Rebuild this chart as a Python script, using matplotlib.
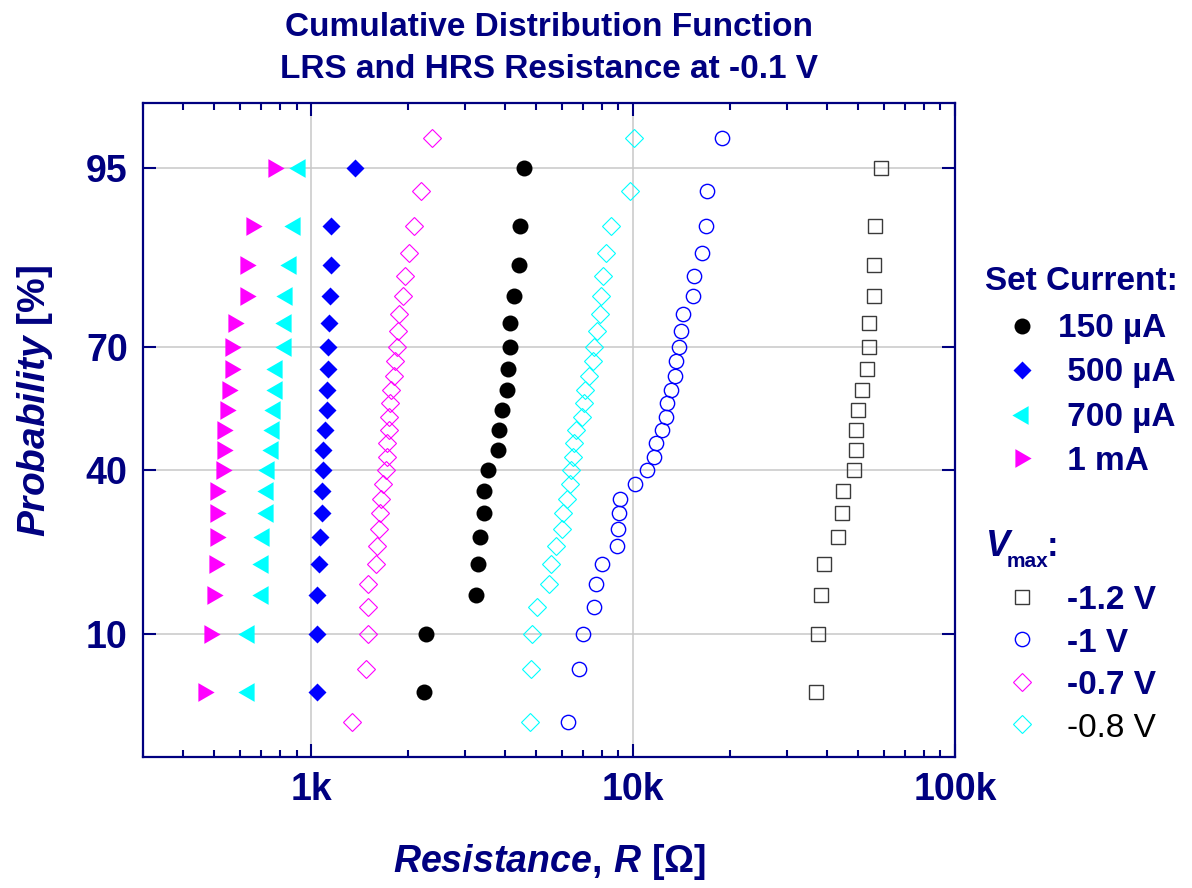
import math
import numpy as np
import matplotlib
matplotlib.use('Agg')
import matplotlib.pyplot as plt
from matplotlib.lines import Line2D
from matplotlib.path import Path
from matplotlib.ticker import LogLocator, NullFormatter

plt.rcParams['font.family'] = ['Liberation Sans', 'DejaVu Sans']
plt.rcParams['mathtext.fontset'] = 'custom'
plt.rcParams['mathtext.it'] = 'Liberation Sans:italic:bold'
plt.rcParams['mathtext.rm'] = 'Liberation Sans:bold'
plt.rcParams['mathtext.bf'] = 'Liberation Sans:bold'

NAVY = '#000080'

# ---------------- data ----------------
prob_19 = [5, 10, 15, 20, 25, 30, 35, 40, 45, 50, 55, 60, 65, 70, 75, 80, 85, 90, 95]
prob_29 = [3.33, 6.67, 10.0, 13.33, 16.67, 20.0, 23.33, 26.67, 30.0, 33.33,
           36.67, 40.0, 43.33, 46.67, 50.0, 53.33, 56.67, 60.0, 63.33, 66.67,
           70.0, 73.33, 76.67, 80.0, 83.33, 86.67, 90.0, 93.33, 96.67]

r_150uA = [2239, 2276, 3249, 3288, 3336, 3430, 3440, 3548, 3803, 3830,
           3923, 4056, 4075, 4135, 4154, 4275, 4431, 4452, 4571]
r_500uA = [1040, 1041, 1045, 1053, 1063, 1078, 1082, 1086, 1090, 1104,
           1116, 1119, 1124, 1127, 1136, 1143, 1148, 1150, 1366]
r_700uA = [626, 627, 693, 693, 698, 718, 720, 723, 745, 752,
           755, 765, 765, 817, 819, 822, 844, 869, 900]
r_1mA = [470, 490, 502, 511, 513, 513, 513, 536, 538, 539,
         551, 559, 570, 571, 584, 636, 636, 663, 777]

r_m12V = [36890, 37590, 38280, 39070, 43440, 44680, 44800, 48510, 49120, 49380,
          50020, 51560, 53320, 53860, 53860, 55970, 56100, 56380, 59070]
r_m1V = [6278, 6775, 6990, 7562, 7653, 8028, 8917, 9003, 9025, 9133,
         10120, 11055, 11595, 11790, 12250, 12665, 12727, 13095, 13478, 13606,
         13903, 14103, 14273, 15370, 15445, 16354, 16786, 16952, 18880]
r_m07V = [1335, 1476, 1501, 1501, 1504, 1591, 1604, 1624, 1635, 1651,
          1671, 1707, 1715, 1723, 1738, 1740, 1752, 1769, 1803, 1816,
          1851, 1865, 1878, 1921, 1958, 2013, 2086, 2188, 2364]
r_m08V = [4787, 4810, 4857, 5021, 5472, 5538, 5741, 6000, 6050, 6226,
          6361, 6422, 6500, 6539, 6633, 6933, 7033, 7083, 7290, 7483,
          7537, 7700, 7886, 7943, 8058, 8253, 8511, 9752, 10060]

y_ticks = [10, 40, 70, 95]
y_ticklabels = ['10', '40', '70', '95']
x_ticks = [1e3, 1e4, 1e5]
x_ticklabels = ['1k', '10k', '100k']

set_current_labels = ['150 µA', ' 500 µA', ' 700 µA', ' 1 mA']
vmax_labels = ['-1.2 V', '-1 V', '-0.7 V', '-0.8 V']

# ------------- normal probability scale -------------
_a = [-3.969683028665376e+01, 2.209460984245205e+02, -2.759285104469687e+02,
      1.383577518672690e+02, -3.066479806614716e+01, 2.506628277459239e+00]
_b = [-5.447609879822406e+01, 1.615858368580409e+02, -1.556989798598866e+02,
      6.680131188771972e+01, -1.328068155288572e+01]
_c = [-7.784894002430293e-03, -3.223964580411365e-01, -2.400758277161838e+00,
      -2.549732539343734e+00, 4.374664141464968e+00, 2.938163982698783e+00]
_d = [7.784695709041462e-03, 3.224671290700398e-01, 2.445134137142996e+00,
      3.754408661907416e+00]


def _ppf(q):
    q = np.clip(np.asarray(q, dtype=float), 1e-12, 1 - 1e-12)
    z = np.full(q.shape, np.nan)
    plow = 0.02425
    lo = q < plow
    hi = q > 1 - plow
    mid = ~(lo | hi) & ~np.isnan(q)
    if lo.any():
        r = np.sqrt(-2 * np.log(q[lo]))
        z[lo] = (((((_c[0]*r+_c[1])*r+_c[2])*r+_c[3])*r+_c[4])*r+_c[5]) / \
                ((((_d[0]*r+_d[1])*r+_d[2])*r+_d[3])*r+1)
    if hi.any():
        r = np.sqrt(-2 * np.log(1 - q[hi]))
        z[hi] = -(((((_c[0]*r+_c[1])*r+_c[2])*r+_c[3])*r+_c[4])*r+_c[5]) / \
                 ((((_d[0]*r+_d[1])*r+_d[2])*r+_d[3])*r+1)
    if mid.any():
        qq = q[mid] - 0.5
        r = qq * qq
        z[mid] = (((((_a[0]*r+_a[1])*r+_a[2])*r+_a[3])*r+_a[4])*r+_a[5])*qq / \
                 (((((_b[0]*r+_b[1])*r+_b[2])*r+_b[3])*r+_b[4])*r+1)
    return z


_erf = np.vectorize(math.erf, otypes=[float])


def prob_forward(p):
    return _ppf(np.asarray(p, dtype=float) / 100.0)


def prob_inverse(z):
    z = np.asarray(z, dtype=float)
    return 50.0 * (1.0 + _erf(z / math.sqrt(2.0)))


# ---------------- figure ----------------
W, H = 1192, 888
fig = plt.figure(figsize=(W / 100, H / 100), dpi=100)


def fx(px):
    return px / W


def fy(py):
    return 1 - py / H


ax = fig.add_axes([fx(143), fy(757), (955 - 143) / W, (757 - 103) / H])
ax.set_xscale('log')
ax.set_yscale('function', functions=(prob_forward, prob_inverse))
ax.set_xlim(300, 1e5)
ax.set_ylim(2, 98)

tri_right = Path([(-0.866, 1), (-0.866, -1), (0.866, 0), (-0.866, 1)],
                 [Path.MOVETO, Path.LINETO, Path.LINETO, Path.CLOSEPOLY])
tri_left = Path([(0.866, 1), (0.866, -1), (-0.866, 0), (0.866, 1)],
                [Path.MOVETO, Path.LINETO, Path.LINETO, Path.CLOSEPOLY])

styles = {
    '150': dict(marker='o', ms=11.5, mfc='black', mec='none', ls='none'),
    '500': dict(marker='D', ms=9.6, mfc='#0000ff', mec='none', ls='none'),
    '700': dict(marker=tri_left, ms=13.5, mfc='#00ffff', mec='none', ls='none'),
    '1m': dict(marker=tri_right, ms=13.5, mfc='#ff00ff', mec='none', ls='none'),
    'm12': dict(marker='s', ms=9.6, mfc='none', mec='#3a3a3a', mew=1.0, ls='none'),
    'm1': dict(marker='o', ms=10.3, mfc='none', mec='#0000ff', mew=1.0, ls='none'),
    'm07': dict(marker='D', ms=9.0, mfc='none', mec='#ff00ff', mew=0.8, ls='none'),
    'm08': dict(marker='D', ms=9.0, mfc='none', mec='#00ffff', mew=0.8, ls='none'),
}

ax.plot(r_m12V, prob_19, zorder=3, **styles['m12'])
ax.plot(r_m1V, prob_29, zorder=3, **styles['m1'])
ax.plot(r_m07V, prob_29, zorder=3, **styles['m07'])
ax.plot(r_m08V, prob_29, zorder=3, **styles['m08'])
ax.plot(r_150uA, prob_19, zorder=3, **styles['150'])
ax.plot(r_500uA, prob_19, zorder=3, **styles['500'])
ax.plot(r_700uA, prob_19, zorder=3, **styles['700'])
ax.plot(r_1mA, prob_19, zorder=3, **styles['1m'])

# ticks
ax.set_yticks(y_ticks)
ax.set_yticklabels(y_ticklabels)
ax.set_xticks(x_ticks)
ax.set_xticklabels(x_ticklabels)
ax.xaxis.set_minor_locator(LogLocator(base=10, subs=np.arange(2, 10)))
ax.xaxis.set_minor_formatter(NullFormatter())
ax.yaxis.set_minor_locator(matplotlib.ticker.NullLocator())

ax.tick_params(which='major', direction='in', length=9.5, width=1.5, color=NAVY,
               top=True, right=True, labelsize=27, labelcolor=NAVY, pad=11)
ax.tick_params(which='minor', direction='in', length=5, width=1.5, color=NAVY,
               top=True, right=True)
for lbl in ax.get_xticklabels() + ax.get_yticklabels():
    lbl.set_fontweight('bold')

for sp in ax.spines.values():
    sp.set_color(NAVY)
    sp.set_linewidth(1.6)

ax.grid(True, which='major', color='#c8c8c8', lw=1.1, zorder=0)
ax.set_axisbelow(True)

# titles and axis labels
fig.text(fx(549), fy(36), 'Cumulative Distribution Function', ha='center',
         va='baseline', fontsize=24, fontweight='bold', color=NAVY)
fig.text(fx(549), fy(78), 'LRS and HRS Resistance at -0.1 V', ha='center',
         va='baseline', fontsize=24, fontweight='bold', color=NAVY)
fig.text(fx(550), fy(872), r'$\mathit{Resistance,}\,\mathit{R}$ [Ω]', ha='center',
         va='baseline', fontsize=27, fontweight='bold', color=NAVY)
fig.text(fx(35), fy(401), r'$\mathit{Probability}$ [%]', rotation=90,
         ha='center', va='center', fontsize=28, fontweight='bold', color=NAVY)

# legend: Set Current
fig.text(fx(985), fy(290), 'Set Current:', ha='left', va='baseline',
         fontsize=24, fontweight='bold', color=NAVY)
sc_keys = ['150', '500', '700', '1m']
sc_marker_xy = [(1022, 326), (1022, 370), (1020, 415), (1023, 458)]
sc_text_xy = [(1058, 337), (1058, 381), (1058, 426), (1058, 470)]
for key, (mx, my), (tx, ty), lab in zip(sc_keys, sc_marker_xy, sc_text_xy,
                                        set_current_labels):
    fig.add_artist(Line2D([fx(mx)], [fy(my)], transform=fig.transFigure,
                          **styles[key]))
    fig.text(fx(tx), fy(ty), lab, ha='left', va='baseline', fontsize=24,
             fontweight='bold', color=NAVY)

# legend: Vmax
fig.text(fx(986), fy(556), 'V', ha='left', va='baseline', fontsize=26,
         fontweight='bold', fontstyle='italic', color=NAVY)
fig.text(fx(1007), fy(567), 'max', ha='left', va='baseline', fontsize=15,
         fontweight='bold', color=NAVY)
fig.text(fx(1047), fy(556), ':', ha='left', va='baseline', fontsize=25,
         fontweight='bold', color=NAVY)
vm_keys = ['m12', 'm1', 'm07', 'm08']
vm_marker_y = [597, 639, 682, 724]
vm_text_y = [609, 652, 694, 737]
for i, (key, my, ty, lab) in enumerate(zip(vm_keys, vm_marker_y, vm_text_y,
                                           vmax_labels)):
    fig.add_artist(Line2D([fx(1022)], [fy(my)], transform=fig.transFigure,
                          **styles[key]))
    if i < 3:
        fig.text(fx(1067), fy(ty), lab, ha='left', va='baseline', fontsize=24,
                 fontweight='bold', color=NAVY)
    else:
        fig.text(fx(1067), fy(ty), lab, ha='left', va='baseline', fontsize=24,
                 fontweight='normal', color='black')

fig.savefig('out.png', dpi=100)
